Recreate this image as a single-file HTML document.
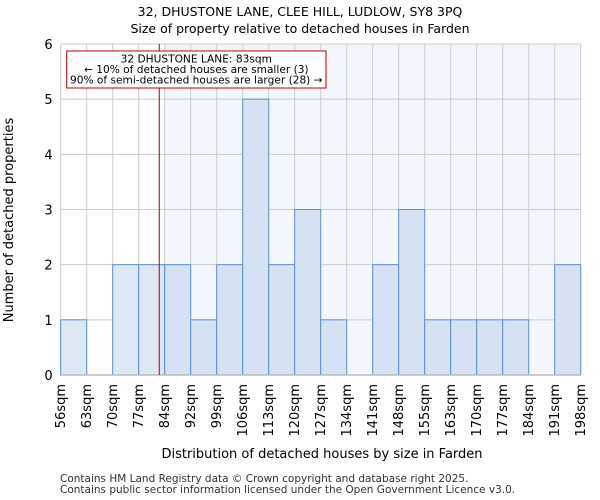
<!DOCTYPE html>
<html><head><meta charset="utf-8"><style>
body{margin:0;background:#fff}
svg{display:block;font-family:"DejaVu Sans","Liberation Sans",sans-serif}
</style></head><body>
<svg id="chart" width="600" height="500" viewBox="0 0 600 500">
<text x="300" y="16" text-anchor="middle" font-size="12.5">32, DHUSTONE LANE, CLEE HILL, LUDLOW, SY8 3PQ</text>
<text x="300" y="33" text-anchor="middle" font-size="12.5">Size of property relative to detached houses in Farden</text>
<g id="plot"></g>
<text x="322" y="458" text-anchor="middle" font-size="13">Distribution of detached houses by size in Farden</text>
<text transform="translate(13,220) rotate(-90)" text-anchor="middle" font-size="13">Number of detached properties</text>
<text x="60" y="482" font-size="10.5" fill="#333">Contains HM Land Registry data © Crown copyright and database right 2025.</text>
<text x="60" y="493" font-size="10.5" fill="#333">Contains public sector information licensed under the Open Government Licence v3.0.</text>
</svg>
<script>
const binLabels=["56sqm","63sqm","70sqm","77sqm","84sqm","92sqm","99sqm","106sqm","113sqm","120sqm","127sqm","134sqm","141sqm","148sqm","155sqm","163sqm","170sqm","177sqm","184sqm","191sqm","198sqm"];
const counts=[1,0,2,2,2,1,2,5,2,3,1,0,2,3,1,1,1,1,0,2];
const yTicks=[0,1,2,3,4,5,6];
const markerBin=3.79;
const NS="http://www.w3.org/2000/svg";
const L=60.7,R=580.7,T=44,B=375,yMax=6;
const n=counts.length;
const x=i=>L+(R-L)*i/n;
const y=v=>B-(B-T)*v/yMax;
const g=document.getElementById('plot');
function mk(t,a){const e=document.createElementNS(NS,t);for(const k in a)e.setAttribute(k,a[k]);g.appendChild(e);return e;}
const mx=x(markerBin);
const hx=x(Math.ceil(markerBin));
let e=mk('rect',{x:hx,y:T,width:R-hx,height:B-T,fill:'#f3f6fd'});


for(let i=0;i<=n;i++){e=mk('line',{x1:x(i),x2:x(i),y1:T,y2:B,stroke:'#cccccc','stroke-width':1});

}
yTicks.forEach(v=>{e=mk('line',{x1:L,x2:R,y1:y(v),y2:y(v),stroke:'#cccccc','stroke-width':1});


e=mk('text',{x:L-8,y:y(v)+5,'text-anchor':'end','font-size':13});e.textContent=v;

});
counts.forEach((c,i)=>{if(!c)return;const left=(i+1)<=Math.ceil(markerBin);
e=mk('rect',{x:x(i),y:y(c),width:x(i+1)-x(i),height:B-y(c),fill:left?'#dee7f4':'#d6e2f4',stroke:'#5b8fd6','stroke-width':1});

});
binLabels.forEach((s,i)=>{e=mk('text',{transform:`translate(${x(i)+4.5},384) rotate(-90)`,'text-anchor':'end','font-size':13});e.textContent=s;

});
e=mk('line',{x1:L,x2:R,y1:B,y2:B,stroke:'#bbbbbb','stroke-width':1.5});


e=mk('line',{x1:mx,x2:mx,y1:T,y2:B,stroke:'#aa0000','stroke-width':1});


e=mk('rect',{x:66.7,y:51,width:259.3,height:37,fill:'#fff',stroke:'#c00000','stroke-width':1});


["32 DHUSTONE LANE: 83sqm","← 10% of detached houses are smaller (3)","90% of semi-detached houses are larger (28) →"].forEach((t,i)=>{
e=mk('text',{x:196.3,y:62.5+i*10.5,'text-anchor':'middle','font-size':10.6});e.textContent=t;

});
</script>
</body></html>
